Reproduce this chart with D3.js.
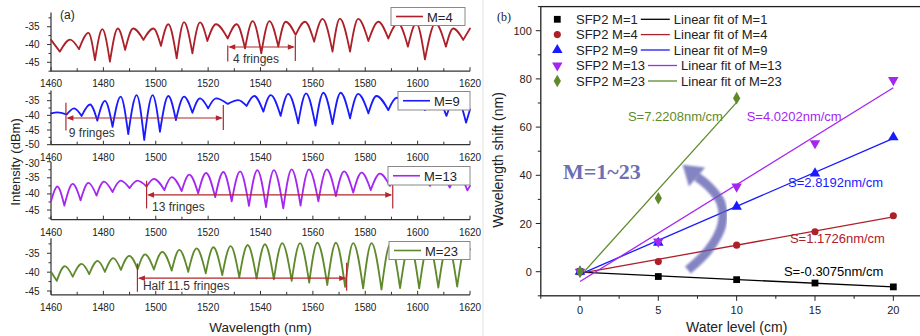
<!DOCTYPE html>
<html><head><meta charset="utf-8">
<script src="https://cdn.jsdelivr.net/npm/d3@7"></script>
<style>body{margin:0;background:#fff}svg{display:block;font-family:Arial,"Liberation Sans",sans-serif}</style>
</head><body><svg id="c" width="920" height="336"></svg>
<script>
// ---------------- DATA ----------------
const wavelengthTicks = [1460,1480,1500,1520,1540,1560,1580,1600,1620];
const spectrumLabels = ["M=4","M=9","M=13","M=23"];
const spectrumColors = ["#ad2029","#1a1aff","#a526f0","#5f8a2c"];
// extrema: [wavelength nm, intensity dBm]
const spectrumM4 = [[1460,-38.7],[1463.4,-42.0],[1467.3,-38.6],[1470.7,-41.3],[1474.3,-36.7],[1476.8,-44.4],[1479.6,-35.7],[1482.5,-44.8],[1485.5,-35.5],[1488.3,-41.5],[1491.4,-35.5],[1495.3,-38.7],[1499.1,-35.5],[1502,-40.4],[1504.8,-34.3],[1508,-43.9],[1510.8,-33.7],[1514,-42.5],[1516.9,-33.8],[1519.7,-39.0],[1523,-34.3],[1527.5,-38.3],[1530.9,-34.3],[1534.1,-41.1],[1537,-33.4],[1540.3,-42.5],[1543.4,-33.4],[1546.8,-40.6],[1549.6,-33.6],[1553.4,-37.3],[1557,-33.6],[1560.5,-39.2],[1563.7,-32.8],[1567.5,-42.0],[1570.3,-32.7],[1574.2,-42.0],[1577.3,-32.8],[1581.2,-39.0],[1585,-33.6],[1588.8,-38.3],[1592.5,-34.0],[1596.3,-40.6],[1599.5,-34.0],[1602.8,-44.2],[1606.8,-34.0],[1610.8,-40.6],[1613.6,-35.5],[1617.4,-38.7],[1620,-35.5]];
const spectrumM9 = [[1460,-39.3],[1462.5,-39.0],[1466,-39.7],[1468.8,-37.6],[1471.7,-40.2],[1474.9,-36.3],[1477.7,-41.8],[1480.6,-35.1],[1483.5,-43.9],[1486.6,-33.6],[1489.5,-46.4],[1492.7,-33.1],[1495.6,-48.4],[1498.8,-33.1],[1501.6,-45.6],[1504.8,-33.4],[1507.7,-41.6],[1510.8,-33.6],[1514,-39.1],[1516.9,-34.2],[1520,-37.6],[1523,-34.2],[1527.5,-36.1],[1531.5,-34.8],[1534.7,-36.8],[1537.6,-33.4],[1541.1,-38.75],[1543.9,-33.1],[1547.7,-40.2],[1550.6,-32.7],[1554.4,-42.7],[1557.4,-32.5],[1561,-43.5],[1564,-32.3],[1567.5,-43.0],[1570.6,-32.3],[1574.2,-41.0],[1577.3,-32.7],[1581.2,-39.3],[1584.3,-33.4],[1588.8,-38.2],[1592,-34.0],[1596,-37.0],[1599.5,-33.8],[1602.8,-38.2],[1607,-33.8],[1611,-40.2],[1614.8,-33.8],[1618.5,-42.5],[1620,-38]];
const spectrumM13 = [[1460,-42.3],[1462.4,-37.7],[1465.1,-43.6],[1468.3,-36.9],[1471.3,-42.0],[1474.3,-36.6],[1477.4,-40.5],[1480.2,-36.2],[1483.5,-39.4],[1486.6,-35.9],[1490,-38.2],[1493,-35.9],[1496.5,-37.7],[1499.3,-35.3],[1503.3,-38.8],[1506.1,-34.8],[1509.9,-39.1],[1512.8,-34.0],[1516.2,-39.8],[1519.2,-33.5],[1522.7,-41.0],[1525.8,-33.2],[1529,-42.3],[1532.2,-33.0],[1535.6,-43.7],[1538.8,-32.6],[1542.1,-44.1],[1545.1,-32.6],[1548.7,-44.5],[1551.9,-32.4],[1555.3,-43.6],[1558.5,-32.4],[1562.1,-42.3],[1565.3,-32.4],[1568.8,-40.7],[1571.9,-33.0],[1575.4,-39.6],[1578.6,-33.4],[1582.1,-38.8],[1585.6,-33.7],[1589.4,-37.5],[1593.5,-34.0],[1597.7,-37.0],[1601,-34.0],[1604.7,-37.5],[1608.5,-34.0],[1612.3,-38.0],[1615.5,-34.0],[1619,-38.9],[1620,-37.5]];
const spectrumM23 = [[1460,-39.9],[1462.2,-42.3],[1465.3,-38.4],[1468.3,-41.2],[1471.7,-37.8],[1474.6,-40.5],[1477.8,-37.0],[1480.6,-39.9],[1483.8,-36.3],[1486.7,-39.4],[1489.9,-35.7],[1493.1,-39.2],[1495.9,-35.3],[1499.3,-39.3],[1502.5,-34.6],[1506.1,-39.6],[1509,-34.1],[1512.4,-39.9],[1515.6,-33.7],[1519.1,-40.3],[1522,-33.4],[1525.4,-40.8],[1528.6,-33.1],[1531.9,-41.4],[1535.1,-32.8],[1538.5,-41.7],[1541.7,-32.6],[1545.1,-41.9],[1548.3,-32.3],[1551.9,-42.3],[1555.1,-32.3],[1558.6,-42.8],[1561.7,-32.2],[1565.5,-43.4],[1568.8,-32.2],[1572.3,-43.9],[1575.4,-32.3],[1579.2,-44.3],[1582.4,-32.3],[1586.2,-44.6],[1589.6,-32.5],[1593.3,-44.2],[1597,-32.5],[1600.6,-44.3],[1604.2,-32.5],[1607.9,-44.1],[1611.5,-32.5],[1615.1,-43.8],[1618.6,-32.6],[1620,-34]];
const intensityDomains = [[-47.5,-31],[-50,-31.5],[-48,-30],[-46,-31]];
const intensityTicks = [[-45,-40,-35],[-50,-45,-40,-35],[-45,-40,-35,-30],[-45,-40,-35]];
// fringe-count brackets: [x1, x2, arrowY, leftTop, leftBot, rightTop, rightBot, labelX, labelY]
const fringeLabels = ["4 fringes","9 fringes","13 fringes","Half 11.5 fringes"];
const fringeBrackets = [
  [1527.5,1553.3,-40.7,-40.3,-44.8,-37.6,-44.6,1529.5,-44.2],
  [1465.7,1525.8,-40.9,-35.7,-45.2,-36.5,-45.0,1466.8,-46.0],
  [1496.5,1590.5,-40.3,-35.9,-44.5,-35.9,-44.5,1498.6,-44.1],
  [1493.0,1572.9,-41.6,-37.7,-45.2,-37.5,-44.9,1495.1,-43.6]];

// panel (b)
const seriesNames = ["M=1","M=4","M=9","M=13","M=23"];
const seriesColors = ["#000000","#ad2029","#1a1aff","#a526f0","#5f8a2c"];
const waterLevel = [0,5,10,15,20];
const shiftM1 = [0,-2.0,-3.3,-4.7,-6.3];
const shiftM4 = [0,4.2,11.0,16.6,23.2];
const shiftM9 = [0,12.0,27.0,40.8,55.8];
const shiftM13 = [0,12.5,35.3,53.3,79.5];
const shiftM23 = [0,30.5,72.0];
const fitSlopes = [-0.3075,1.1726,2.8192,4.0202,7.2208];
const slopeLabels = ["S=-0.3075nm/cm","S=1.1726nm/cm","S=2.8192nm/cm","S=4.0202nm/cm","S=7.2208nm/cm"];
const slopeLabelPos = [[13.02,0.0],[13.4,13.6],[13.28,36.9],[10.64,64.2],[3.06,64.2]];
const waterTicks = [0,5,10,15,20];
const shiftTicks = [0,20,40,60,80,100];

// ---------------- DRAW ----------------
const svg = d3.select("#c");
const txt = "#222";

// ===== Panel (a) =====
const xA = d3.scaleLinear().domain([1460,1620]).range([51,470]);
const ranges = [[71.2,12.5],[144.7,90.4],[219.7,161.7],[294.8,238.2]];
const spectra = [spectrumM4,spectrumM9,spectrumM13,spectrumM23];
const legendBoxes = [[391,7.5,74,18],[398,91.5,72,18.5],[388,166.5,82,18.5],[389,241.5,81,18]];

svg.append("line").attr("x1",483).attr("x2",483).attr("y1",0).attr("y2",336).attr("stroke","#e2e2e2");

function spectrumPath(pts, y){
  const line = d3.line().x(d=>xA(d[0])).y(d=>y(d[1])).curve(d3.curveMonotoneX);
  const segs=[]; let cur=[pts[0]];
  for(let i=1;i<pts.length;i++){
    cur.push(pts[i]);
    if(i<pts.length-1 && pts[i][1]<pts[i-1][1] && pts[i][1]<pts[i+1][1]){ segs.push(cur); cur=[pts[i]]; }
  }
  segs.push(cur);
  return segs.map(s=>line(s)).join("");
}

const redBr = "#b3262b";
spectra.forEach((pts,k)=>{
  const y = d3.scaleLinear().domain(intensityDomains[k]).range(ranges[k]);
  const g = svg.append("g");
  const yb = ranges[k][0], yt = ranges[k][1];
  // x axis
  g.append("line").attr("x1",51).attr("x2",470).attr("y1",yb).attr("y2",yb).attr("stroke","#333").attr("stroke-width",1.2);
  d3.range(1460,1621,10).forEach(v=>{
    g.append("line").attr("x1",xA(v)).attr("x2",xA(v)).attr("y1",yb).attr("y2",yb-(v%20===0?4:3)).attr("stroke","#333");
  });
  wavelengthTicks.forEach(v=>{
    g.append("text").attr("x",xA(v)).attr("y",yb+12.5).attr("text-anchor","middle").attr("dominant-baseline","central")
      .attr("font-size",10).attr("fill",txt).text(v);
  });
  // y axis
  g.append("line").attr("x1",51).attr("x2",51).attr("y1",yb).attr("y2",yt).attr("stroke","#333").attr("stroke-width",1.2);
  const d = intensityDomains[k];
  for(let v=Math.ceil(d[0]/2.5)*2.5; v<=d[1]; v+=2.5){
    const major = Math.abs(v%5)<1e-6;
    g.append("line").attr("x1",51).attr("x2",51-(major?4:2.5)).attr("y1",y(v)).attr("y2",y(v)).attr("stroke","#333");
  }
  intensityTicks[k].forEach(v=>{
    g.append("text").attr("x",39.5).attr("y",y(v)+(v===-30?1.5:0)).attr("text-anchor","end").attr("dominant-baseline","central")
      .attr("font-size",10).attr("fill",txt).text(v);
  });
  // curve
  g.append("path").attr("d",spectrumPath(pts,y)).attr("fill","none").attr("stroke",spectrumColors[k])
    .attr("stroke-width",1.8).attr("stroke-linecap","round").attr("stroke-linejoin","round");
  // bracket
  const b = fringeBrackets[k];
  const bg = g.append("g").attr("stroke",redBr).attr("stroke-width",1.2);
  bg.append("line").attr("x1",xA(b[0])).attr("x2",xA(b[0])).attr("y1",y(b[3])).attr("y2",y(b[4]));
  bg.append("line").attr("x1",xA(b[1])).attr("x2",xA(b[1])).attr("y1",y(b[5])).attr("y2",y(b[6]));
  bg.append("line").attr("x1",xA(b[0])+2).attr("x2",xA(b[1])-2).attr("y1",y(b[2])).attr("y2",y(b[2]));
  const ay = y(b[2]), ax1 = xA(b[0])+0.5, ax2 = xA(b[1])-0.5;
  g.append("path").attr("d",`M${ax1},${ay}L${ax1+7},${ay-2.8}L${ax1+7},${ay+2.8}Z`).attr("fill",redBr);
  g.append("path").attr("d",`M${ax2},${ay}L${ax2-7},${ay-2.8}L${ax2-7},${ay+2.8}Z`).attr("fill",redBr);
  g.append("text").attr("x",xA(b[7])).attr("y",y(b[8])).attr("dominant-baseline","central")
    .attr("font-size",12).attr("fill","#333").text(fringeLabels[k]);
  // legend
  const lb = legendBoxes[k];
  g.append("rect").attr("x",lb[0]).attr("y",lb[1]).attr("width",lb[2]).attr("height",lb[3]).attr("fill","#fff").attr("stroke","#888");
  g.append("line").attr("x1",lb[0]+5).attr("x2",lb[0]+32).attr("y1",lb[1]+lb[3]/2).attr("y2",lb[1]+lb[3]/2).attr("stroke",spectrumColors[k]).attr("stroke-width",1.6);
  g.append("text").attr("x",lb[0]+36).attr("y",lb[1]+lb[3]/2+0.5).attr("dominant-baseline","central").attr("font-size",13).attr("fill",txt).text(spectrumLabels[k]);
});
svg.append("text").attr("x",60).attr("y",15).attr("dominant-baseline","central").attr("font-size",12).attr("fill",txt).text("(a)");
svg.append("text").attr("transform","translate(15,162) rotate(-90)").attr("text-anchor","middle").attr("dominant-baseline","central")
  .attr("font-size",13).attr("fill",txt).text("Intensity (dBm)");
svg.append("text").attr("x",xA(1540)).attr("y",327).attr("text-anchor","middle").attr("dominant-baseline","central")
  .attr("font-size",13.5).attr("fill",txt).text("Wavelength (nm)");

// ===== Panel (b) =====
const xB = d3.scaleLinear().domain([-2.5,22.5]).range([540.8,932.5]);
const yB = d3.scaleLinear().domain([-10,110]).range([295.8,6.6]);
const gb = svg.append("g");
const L = xB(-2.5), R = xB(22.5), B = yB(-10), T = yB(110);
gb.append("rect").attr("x",L).attr("y",T).attr("width",R-L).attr("height",B-T).attr("fill","none").attr("stroke","#222").attr("stroke-width",1.3);
d3.range(-10,111,10).forEach(v=>{
  const major = v%20===0;
  gb.append("line").attr("x1",L).attr("x2",L-(major?5:3)).attr("y1",yB(v)).attr("y2",yB(v)).attr("stroke","#222");
});
shiftTicks.forEach(v=>{
  gb.append("text").attr("x",L-9).attr("y",yB(v)).attr("text-anchor","end").attr("dominant-baseline","central").attr("font-size",11).attr("fill",txt).text(v);
});
d3.range(-2.5,22.6,2.5).forEach(v=>{
  const major = Math.abs(v%5)<1e-6;
  gb.append("line").attr("x1",xB(v)).attr("x2",xB(v)).attr("y1",B).attr("y2",B+(major?5:3)).attr("stroke","#222");
});
waterTicks.forEach(v=>{
  gb.append("text").attr("x",xB(v)).attr("y",B+14).attr("text-anchor","middle").attr("dominant-baseline","central").attr("font-size",11).attr("fill",txt).text(v);
});
gb.append("text").attr("x",xB(10)).attr("y",327).attr("text-anchor","middle").attr("dominant-baseline","central").attr("font-size",14).attr("fill",txt).text("Water level (cm)");
gb.append("text").attr("transform","translate(498,160) rotate(-90)").attr("text-anchor","middle").attr("dominant-baseline","central").attr("font-size",14).attr("fill",txt).text("Wavelength shift (nm)");
gb.append("text").attr("x",497).attr("y",17).attr("dominant-baseline","central").attr("font-family","'Liberation Serif','DejaVu Serif',serif").attr("font-size",12).attr("fill",txt).text("(b)");

const shifts = [shiftM1,shiftM4,shiftM9,shiftM13,shiftM23];
const symbols = [d3.symbolSquare,d3.symbolCircle,d3.symbolTriangle,d3.symbolTriangle,d3.symbolDiamond];
const symSizes = [46,40,48,48,46];
const symRot = [0,0,0,180,0];
function sym(g,k,px,py){
  g.append("path").attr("d",d3.symbol().type(symbols[k]).size(symSizes[k])())
   .attr("transform",`translate(${px},${py}) rotate(${symRot[k]})`).attr("fill",seriesColors[k]);
}
// fit lines
shifts.forEach((ys,k)=>{
  const xs = waterLevel.slice(0,ys.length);
  const mx = d3.mean(xs), my = d3.mean(ys);
  const b0 = my - fitSlopes[k]*mx;
  const x0 = xs[0], x1 = xs[xs.length-1];
  gb.append("line").attr("x1",xB(x0)).attr("y1",yB(b0+fitSlopes[k]*x0)).attr("x2",xB(x1)).attr("y2",yB(b0+fitSlopes[k]*x1))
    .attr("stroke",seriesColors[k]).attr("stroke-width",1.3);
});
shifts.forEach((ys,k)=>{
  ys.forEach((v,i)=>sym(gb,k,xB(waterLevel[i]),yB(v)));
});
// slope labels
slopeLabels.forEach((s,k)=>{
  gb.append("text").attr("x",xB(slopeLabelPos[k][0])).attr("y",yB(slopeLabelPos[k][1])).attr("dominant-baseline","central")
    .attr("font-size",13).attr("fill",seriesColors[k]).text(s);
});
// legend
const legRows = [19.3,34.6,50,65.5,81];
seriesNames.forEach((n,k)=>{
  const yy = legRows[k];
  sym(gb,k,557.3,yy);
  const t1 = gb.append("text").attr("x",576).attr("y",yy).attr("dominant-baseline","central").attr("font-size",13).attr("fill",txt).text("SFP2 "+n);
  const w = t1.node().getComputedTextLength();
  gb.append("line").attr("x1",576+w+3).attr("x2",576+w+32).attr("y1",yy).attr("y2",yy).attr("stroke",seriesColors[k]).attr("stroke-width",1.3);
  gb.append("text").attr("x",576+w+36).attr("y",yy).attr("dominant-baseline","central").attr("font-size",13).attr("fill",txt).text("Linear fit of "+n);
});
// big curved arrow annotation
const defs = svg.append("defs");
defs.append("filter").attr("id","soft").append("feGaussianBlur").attr("stdDeviation",0.9);
const arrowShaft = [[6.89,0.7],[8.2,9.0],[9.05,19.4],[9.0,28.5],[8.2,35.5],[7.47,39.3]];
const arrowTip = [6.55,44.4];
const ag = gb.append("g").attr("opacity",0.75).attr("filter","url(#soft)");
ag.append("path").attr("d",d3.line().x(d=>xB(d[0])).y(d=>yB(d[1])).curve(d3.curveCatmullRom)(arrowShaft))
  .attr("fill","none").attr("stroke","#5c5cb0").attr("stroke-width",9).attr("stroke-linecap","butt");
{
  const e = arrowShaft[arrowShaft.length-1];
  const bx = xB(e[0]), by = yB(e[1]), tx = xB(arrowTip[0]), ty = yB(arrowTip[1]);
  const dx = tx-bx, dy = ty-by, len = Math.hypot(dx,dy), nx = -dy/len*12.5, ny = dx/len*12.5;
  ag.append("path").attr("d",`M${tx},${ty}L${bx+nx},${by+ny}L${bx-nx},${by-ny}Z`).attr("fill","#5c5cb0");
}
gb.append("text").attr("x",xB(-1.09)).attr("y",yB(41.5)).attr("dominant-baseline","central")
  .attr("font-family","'Liberation Serif','DejaVu Serif',serif").attr("font-weight","bold").attr("font-size",22)
  .attr("fill","#6e6eb4").text("M=1~23");
</script></body></html>
